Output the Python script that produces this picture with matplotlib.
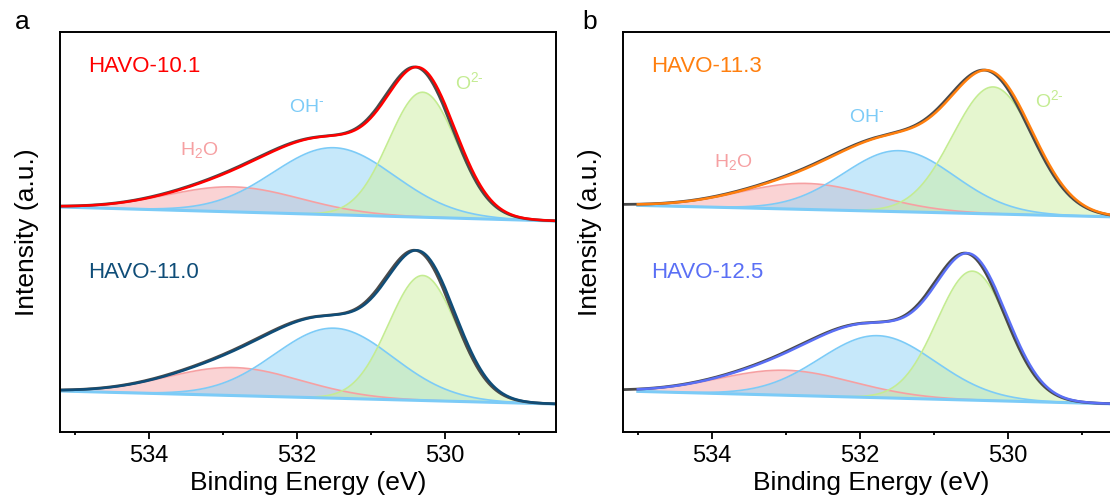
import numpy as np
import matplotlib.pyplot as plt
from matplotlib.ticker import MultipleLocator

plt.rcParams['font.family'] = ['Liberation Sans', 'DejaVu Sans']
plt.rcParams['mathtext.fontset'] = 'custom'
plt.rcParams['mathtext.rm'] = 'Liberation Sans'
plt.rcParams['mathtext.it'] = 'Liberation Sans:italic'

# order of every list: a-top, a-bottom, b-top, b-bottom
samples = ['HAVO-10.1', 'HAVO-11.0', 'HAVO-11.3', 'HAVO-12.5']
fit_colors = ['#ff0000', '#0f4d78', '#ff7f0e', '#5a6ff5']

# linear background at 535.2 eV and 528.5 eV (arb. units)
bg_left = [225, 41, 227, 41]
bg_right = [211, 28, 215, 28]

# O2- lattice oxygen
o2_pos = [530.30, 530.30, 530.20, 530.48]
o2_amp = [125, 125, 127, 129]
o2_sig = [0.46, 0.46, 0.55, 0.48]
# OH-
oh_pos = [531.50, 531.50, 531.47, 531.76]
oh_amp = [67, 70, 61, 62]
oh_sig = [0.82, 0.80, 0.75, 0.78]
# H2O
h2o_pos = [532.85, 532.85, 532.72, 533.00]
h2o_amp = [25, 28, 26, 25]
h2o_sig = [0.90, 0.90, 0.90, 0.90]

xmin, xmax = 528.5, 535.2

c_o2, c_oh, c_h2o = '#c4ec92', '#7ccbf7', '#f6a0a2'
f_o2, f_oh, f_h2o = '#cdeea0', '#8fd3f7', '#f7a8aa'


def gauss(x, p, a, s):
    return a * np.exp(-0.5 * ((x - p) / s) ** 2)


fig = plt.figure(figsize=(11.1, 4.99), dpi=100)
axes = [fig.add_axes([60 / 1110, 67 / 499, 496 / 1110, 400 / 499]),
        fig.add_axes([623 / 1110, 67 / 499, 496 / 1110, 400 / 499])]

label_pos = [  # (O2-, OH-, H2O) in data coords
    [(529.86, 350), (532.11, 325), (533.58, 282)],
    [(529.63, 332), (532.15, 314), (533.97, 270)],
]

for k in range(4):
    ax = axes[k // 2]
    start = xmax if k < 2 else 535.0
    x = np.linspace(xmin, xmax, 600)
    xc = np.linspace(xmin, start, 600)

    def bg(xx):
        return bg_right[k] + (bg_left[k] - bg_right[k]) * (xx - xmin) / (xmax - xmin)

    g_o2 = gauss(xc, o2_pos[k], o2_amp[k], o2_sig[k])
    g_oh = gauss(xc, oh_pos[k], oh_amp[k], oh_sig[k])
    g_h2o = gauss(xc, h2o_pos[k], h2o_amp[k], h2o_sig[k])
    b = bg(xc)

    ax.fill_between(xc, b, b + g_h2o, color=f_h2o, alpha=0.5, lw=0)
    ax.fill_between(xc, b, b + g_oh, color=f_oh, alpha=0.5, lw=0)
    ax.fill_between(xc, b, b + g_o2, color=f_o2, alpha=0.5, lw=0)
    ax.plot(xc, b + g_h2o, color=c_h2o, lw=1.2)
    ax.plot(xc, b + g_oh, color=c_oh, lw=1.2)
    ax.plot(xc, b + g_o2, color=c_o2, lw=1.2)
    ax.plot(xc, b, color=c_oh, lw=2.2)

    # measured spectrum (slightly offset under the fit) and fit envelope
    xr = x - 0.03
    raw = bg(x) + gauss(xr, o2_pos[k], o2_amp[k], o2_sig[k]) \
        + gauss(xr, oh_pos[k], oh_amp[k], oh_sig[k]) \
        + gauss(xr, h2o_pos[k], h2o_amp[k], h2o_sig[k])
    ax.plot(x, raw, color='#4a4a4a', lw=2.0)
    env = b + g_o2 + g_oh + g_h2o
    ax.plot(xc, env, color=fit_colors[k], lw=1.8)

    ytxt = 0.915 if k % 2 == 0 else 0.3975
    ax.text(0.056, ytxt, samples[k], transform=ax.transAxes, color=fit_colors[k],
            fontsize=16, ha='left', va='center')

for i, ax in enumerate(axes):
    lp = label_pos[i]
    ax.text(*lp[0], r'O$^{2\text{-}}$', color=c_o2, fontsize=14, ha='left', va='center')
    ax.text(*lp[1], r'OH$^{\text{-}}$', color=c_oh, fontsize=14, ha='left', va='center')
    ax.text(*lp[2], r'H$_2$O', color=c_h2o, fontsize=14, ha='left', va='center')

    ax.set_xlim(xmax, xmin)
    ax.set_ylim(0, 400)
    ax.set_yticks([])
    ax.xaxis.set_major_locator(MultipleLocator(2))
    ax.xaxis.set_minor_locator(MultipleLocator(1))
    ax.tick_params(axis='x', which='major', direction='out', length=5, width=1.3,
                   labelsize=17, pad=4)
    ax.tick_params(axis='x', which='minor', direction='out', length=2.5, width=1.3)
    for sp in ax.spines.values():
        sp.set_linewidth(1.4)
    ax.set_xlabel('Binding Energy (eV)', fontsize=19, labelpad=3)
    ax.set_ylabel('Intensity (a.u.)', fontsize=19, labelpad=15)

fig.text(22 / 1110, 1 - 22 / 499, 'a', fontsize=19, ha='center', va='center')
fig.text(590 / 1110, 1 - 22 / 499, 'b', fontsize=19, ha='center', va='center')

fig.savefig('out.png', dpi=100)
